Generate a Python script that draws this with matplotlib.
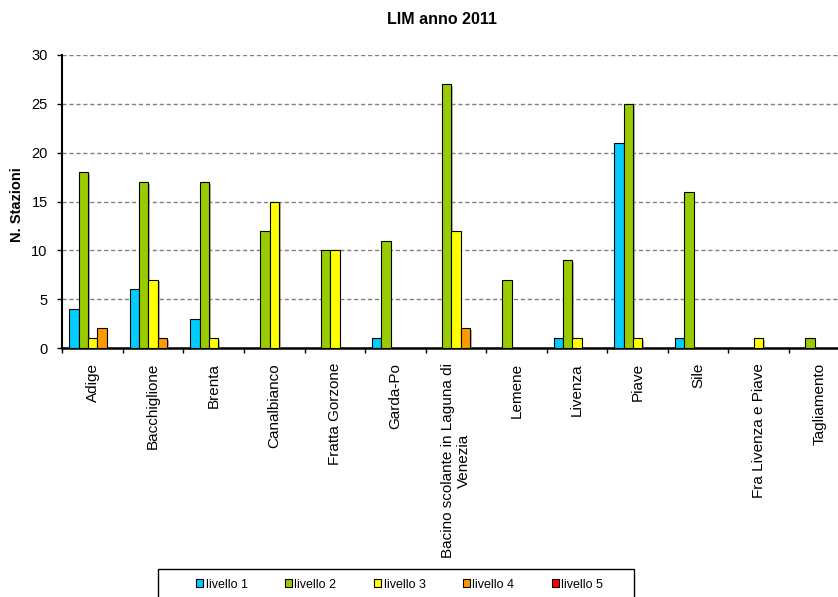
import matplotlib
matplotlib.use("Agg")
import matplotlib.pyplot as plt
import numpy as np
from matplotlib.patches import Rectangle
import matplotlib.patheffects as pe

plt.rcParams['font.family'] = ['Liberation Sans', 'DejaVu Sans']

categories = ["Adige", "Bacchiglione", "Brenta", "Canalbianco", "Fratta Gorzone",
              "Garda-Po", "Bacino scolante in Laguna di\nVenezia", "Lemene", "Livenza",
              "Piave", "Sile", "Fra Livenza e Piave", "Tagliamento"]
series_names = ["livello 1", "livello 2", "livello 3", "livello 4", "livello 5"]
livello1 = [4, 6, 3, 0, 0, 1, 0, 0, 1, 21, 1, 0, 0]
livello2 = [18, 17, 17, 12, 10, 11, 27, 7, 9, 25, 16, 0, 1]
livello3 = [1, 7, 1, 15, 10, 0, 12, 0, 1, 1, 0, 1, 0]
livello4 = [2, 1, 0, 0, 0, 0, 2, 0, 0, 0, 0, 0, 0]
livello5 = [0, 0, 0, 0, 0, 0, 0, 0, 0, 0, 0, 0, 0]
yticks = [0, 5, 10, 15, 20, 25, 30]

series = [livello1, livello2, livello3, livello4, livello5]
colors = ["#00CCFF", "#99CC00", "#FFFF00", "#FF9900", "#FF0000"]

W, H = 838, 597
fig = plt.figure(figsize=(W / 100, H / 100), dpi=100)
ax = fig.add_axes([62.3 / W, 1 - 348 / H, (849.6 - 62.3) / W, (348 - 55) / H])

x = np.arange(len(categories))
bw = 0.155
shadow = [pe.SimplePatchShadow(offset=(1.2, -1.2), shadow_rgbFace='#808080', alpha=0.6), pe.Normal()]
for i, (vals, c) in enumerate(zip(series, colors)):
    vals = np.array(vals, dtype=float)
    mask = vals > 0
    bars = ax.bar(x[mask] + (i - 2) * bw, vals[mask], width=bw, color=c,
                  edgecolor='black', linewidth=0.8, zorder=3)
    for b in bars:
        b.set_path_effects(shadow)

ax.set_xlim(-0.5, len(categories) - 0.5)
ax.set_ylim(0, 30)
ax.set_yticks(yticks)
ax.set_yticklabels([str(v) for v in yticks], fontsize=10.5)
ax.yaxis.grid(True, linestyle=(0, (3, 2)), color='#808080', linewidth=1.0, zorder=0)
ax.set_axisbelow(True)

ax.set_xticks(x)
ax.set_xticklabels(categories, rotation=90, fontsize=11, va='top', ha='center',
                   multialignment='center')
ax.set_xticks(np.arange(-0.5, len(categories)), minor=True)
ax.tick_params(axis='x', which='major', length=0, pad=10.8)
ax.tick_params(axis='x', which='minor', length=3.5, width=1.0, direction='out')
ax.tick_params(axis='y', length=3.5, width=1.0, direction='out', pad=7)

for s in ['top', 'right']:
    ax.spines[s].set_visible(False)
ax.spines['left'].set_linewidth(1.5)
ax.spines['bottom'].set_linewidth(1.8)

fig.text(441.5 / W, 1 - 20 / H, "LIM anno 2011", fontsize=11.5, fontweight='bold',
         ha='center', va='center')
fig.text(17 / W, 1 - 205 / H, "N. Stazioni", fontsize=10.5, fontweight='bold',
         rotation=90, ha='center', va='center')

# legend
handles = [Rectangle((0, 0), 1, 1, facecolor=c, edgecolor='black', linewidth=0.8)
           for c in colors]
fig.legend(handles, series_names, loc='center left',
           bbox_to_anchor=(196 / W, 1 - 584.5 / H), ncol=5, frameon=False,
           fontsize=9, handlelength=0.56, handleheight=0.56, handletextpad=0.2,
           columnspacing=3.0, borderpad=0, borderaxespad=0)
fig.patches.append(Rectangle((158 / W, -0.02), (634 - 158) / W, (1 - 569 / H) + 0.02,
                             transform=fig.transFigure, fill=False, edgecolor='black',
                             linewidth=1.0))

fig.savefig("out.png", dpi=100)
